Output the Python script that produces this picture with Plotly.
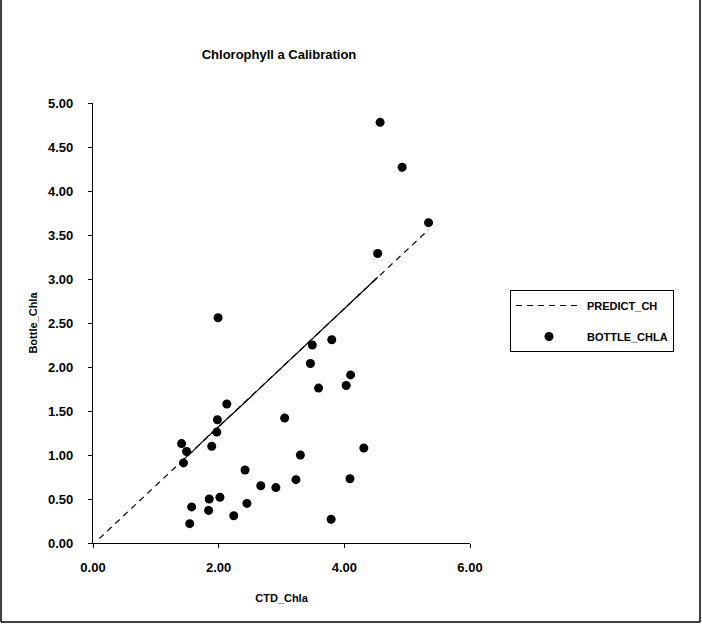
import plotly.graph_objects as go

# CTD vs bottle chlorophyll
ctd_chla = [4.57, 4.92, 5.34, 4.53, 1.99, 3.49, 3.80, 3.46, 4.10, 3.59, 4.03, 2.13,
            3.05, 1.98, 1.97, 1.41, 1.49, 1.89, 1.44, 4.31, 3.30, 2.42, 2.67, 2.91,
            3.23, 4.09, 1.85, 2.02, 1.57, 1.84, 2.45, 2.24, 1.54, 3.79]
bottle_chla = [4.78, 4.27, 3.64, 3.29, 2.56, 2.25, 2.31, 2.04, 1.91, 1.76, 1.79, 1.58,
               1.42, 1.40, 1.26, 1.13, 1.04, 1.10, 0.91, 1.08, 1.00, 0.83, 0.65, 0.63,
               0.72, 0.73, 0.50, 0.52, 0.41, 0.37, 0.45, 0.31, 0.22, 0.27]

# predicted line
predict_x = [0.10, 1.41, 1.44, 1.49, 1.54, 1.57, 1.84, 1.85, 1.89, 1.97, 1.98, 1.99,
             2.02, 2.13, 2.24, 2.42, 2.45, 2.67, 2.91, 3.05, 3.23, 3.30, 3.46, 3.49,
             3.59, 3.79, 3.80, 4.03, 4.09, 4.10, 4.31, 4.53, 4.57, 4.92, 5.34]
predict_ch = [0.05, 0.93, 0.95, 0.98, 1.01, 1.03, 1.22, 1.22, 1.25, 1.30, 1.31, 1.32,
              1.34, 1.41, 1.48, 1.60, 1.62, 1.77, 1.93, 2.03, 2.15, 2.19, 2.30, 2.32,
              2.39, 2.52, 2.53, 2.68, 2.72, 2.73, 2.87, 3.02, 3.05, 3.28, 3.56]

x_ticks = [0, 2, 4, 6]
x_tick_labels = ["0.00", "2.00", "4.00", "6.00"]
y_ticks = [0, 0.5, 1, 1.5, 2, 2.5, 3, 3.5, 4, 4.5, 5]
y_tick_labels = ["0.00", "0.50", "1.00", "1.50", "2.00", "2.50", "3.00", "3.50",
                 "4.00", "4.50", "5.00"]

FONT = "Liberation Sans, Arial, sans-serif"

fig = go.Figure()
fig.add_trace(go.Scatter(
    x=predict_x, y=predict_ch, mode="lines", name="PREDICT_CH",
    line=dict(color="black", width=1.2, dash="6px,5px"), legendgroup="p"))
# dense middle section renders solid in the original
fig.add_trace(go.Scatter(
    x=predict_x[2:32], y=predict_ch[2:32], mode="lines", showlegend=False,
    line=dict(color="black", width=1.2), legendgroup="p", hoverinfo="skip"))
fig.add_trace(go.Scatter(
    x=ctd_chla, y=bottle_chla, mode="markers", name="BOTTLE_CHLA",
    marker=dict(color="black", size=9)))

L, R, T, B = 93, 232, 103, 82
pw, ph = 702 - L - R, 625 - T - B

def px(xp):
    return (xp - L) / pw

def py(yp):
    return (625 - B - yp) / ph

frame = dict(type="line", xref="paper", yref="paper", line=dict(color="black", width=1.5))
fig.update_layout(
    width=702, height=625,
    margin=dict(l=L, r=R, t=T, b=B),
    paper_bgcolor="white", plot_bgcolor="white",
    font=dict(family=FONT, size=11, color="black", weight="bold"),
    title=dict(text="Chlorophyll a Calibration", x=279 / 702, xanchor="center",
               xref="container", y=1 - 54 / 625, yanchor="middle",
               font=dict(family=FONT, size=13, weight="bold")),
    xaxis=dict(range=[0, 6], tickvals=x_ticks, ticktext=x_tick_labels,
               showgrid=False, zeroline=False, showline=True, linecolor="black",
               linewidth=1.2, ticks="outside", ticklen=4, tickcolor="black",
               ticklabelstandoff=8,
               title=dict(text="CTD_Chla", standoff=20,
                          font=dict(family=FONT, size=11, weight="bold")),
               tickfont=dict(family=FONT, size=13, weight="bold")),
    yaxis=dict(range=[0, 5], tickvals=y_ticks, ticktext=y_tick_labels,
               showgrid=False, zeroline=False, showline=True, linecolor="black",
               linewidth=1.2, ticks="outside", ticklen=4, tickcolor="black",
               ticklabelstandoff=12,
               title=dict(text="Bottle_Chla", standoff=8,
                          font=dict(family=FONT, size=11, weight="bold")),
               tickfont=dict(family=FONT, size=13, weight="bold")),
    legend=dict(x=px(510), y=py(290), xanchor="left", yanchor="top",
                bordercolor="black", borderwidth=1, bgcolor="white",
                font=dict(family=FONT, size=11, weight="bold"),
                tracegroupgap=12, itemwidth=66),
    shapes=[
        dict(frame, x0=px(1), x1=px(1), y0=py(0), y1=py(622)),
        dict(frame, x0=px(700), x1=px(700), y0=py(0), y1=py(622)),
        dict(frame, x0=px(1), x1=px(700), y0=py(622), y1=py(622)),
    ],
    showlegend=True,
)

fig.write_html("out.html")
